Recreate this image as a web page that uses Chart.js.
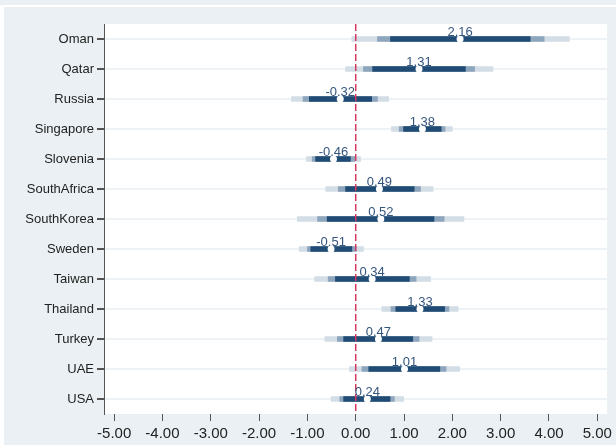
<!DOCTYPE html>
<html>
<head>
<meta charset="utf-8">
<script src="https://cdn.jsdelivr.net/npm/chart.js@4.4.0/dist/chart.umd.min.js"></script>
<style>
  body { margin: 0; background: #fff; width: 616px; height: 445px; overflow: hidden; position: relative; }
  #strip { position: absolute; left: 0; top: 0; width: 616px; height: 5px; background: #eaf0f3; }
  #panel { position: absolute; left: 4px; top: 7px; width: 612px; height: 438px; background: #eaf0f3; }
</style>
</head>
<body>
<div id="strip"></div>
<div id="panel"><canvas id="forestChart" width="612" height="438"></canvas></div>
<script>
const countries = ['Oman', 'Qatar', 'Russia', 'Singapore', 'Slovenia', 'SouthAfrica', 'SouthKorea', 'Sweden', 'Taiwan', 'Thailand', 'Turkey', 'UAE', 'USA'];
const estimates = [2.16, 1.31, -0.32, 1.38, -0.46, 0.49, 0.52, -0.51, 0.34, 1.33, 0.47, 1.01, 0.24];
const lightLow  = [-0.08, -0.21, -1.33, 0.74, -1.02, -0.62, -1.21, -1.17, -0.85, 0.54, -0.64, -0.13, -0.51];
const lightHigh = [4.42, 2.84, 0.68, 2.00, 0.10, 1.60, 2.24, 0.16, 1.55, 2.12, 1.58, 2.15, 0.99];
const midLow    = [0.45, 0.16, -1.09, 0.90, -0.90, -0.36, -0.79, -1.00, -0.57, 0.73, -0.38, 0.13, -0.33];
const midHigh   = [3.90, 2.46, 0.45, 1.85, -0.02, 1.34, 1.83, 0.01, 1.25, 1.93, 1.31, 1.87, 0.80];
const darkLow   = [0.72, 0.35, -0.96, 0.99, -0.83, -0.21, -0.59, -0.93, -0.42, 0.83, -0.25, 0.27, -0.25];
const darkHigh  = [3.61, 2.27, 0.33, 1.77, -0.11, 1.21, 1.62, -0.08, 1.11, 1.84, 1.18, 1.74, 0.71];
const xTicks = [-5, -4, -3, -2, -1, 0, 1, 2, 3, 4, 5];

const pairs = (lo, hi) => lo.map((v, i) => [v, hi[i]]);

// white plot area + zero reference line + value labels
const forestPlugin = {
    id: 'forest',
    beforeDraw(chart) {
        const { ctx, chartArea: a } = chart;
        ctx.save();
        ctx.fillStyle = '#ffffff';
        ctx.fillRect(a.left, a.top, a.right - a.left, a.bottom - a.top);
        ctx.restore();
    },
    afterDatasetsDraw(chart) {
        const { ctx, chartArea: a, scales } = chart;
        const x0 = scales.x.getPixelForValue(0);
        ctx.save();
        ctx.strokeStyle = '#d6375f';
        ctx.lineWidth = 1.5;
        ctx.setLineDash([7, 3]);
        ctx.beginPath();
        ctx.moveTo(x0, a.top);
        ctx.lineTo(x0, a.bottom);
        ctx.stroke();
        ctx.setLineDash([]);
        ctx.font = '13px "Liberation Sans", Arial, sans-serif';
        ctx.fillStyle = '#34557d';
        ctx.textAlign = 'center';
        ctx.textBaseline = 'alphabetic';
        estimates.forEach((v, i) => {
            const px = scales.x.getPixelForValue(v);
            const py = scales.y.getPixelForValue(i);
            ctx.fillText(v.toFixed(2), px, py - 3);
        });
        ctx.restore();
    }
};

const ctx = document.getElementById('forestChart').getContext('2d');
const forestChart = new Chart(ctx, {
    type: 'bar',
    data: {
        labels: countries,
        datasets: [
            {
                type: 'scatter',
                data: estimates.map((v, i) => ({ x: v, y: countries[i] })),
                backgroundColor: '#ffffff',
                borderWidth: 0,
                pointRadius: 3.5,
                pointHoverRadius: 3.5,
                order: 0
            },
            {
                data: pairs(darkLow, darkHigh),
                backgroundColor: '#1f4b75',
                barThickness: 5,
                grouped: false,
                order: 1
            },
            {
                data: pairs(midLow, midHigh),
                backgroundColor: '#8ea6bd',
                barThickness: 5,
                grouped: false,
                order: 2
            },
            {
                data: pairs(lightLow, lightHigh),
                backgroundColor: '#d3dde6',
                barThickness: 5,
                grouped: false,
                order: 3
            }
        ]
    },
    options: {
        indexAxis: 'y',
        responsive: false,
        animation: false,
        layout: { padding: { top: 17, right: 6, bottom: 0, left: 0 } },
        plugins: {
            legend: { display: false },
            tooltip: { enabled: false }
        },
        scales: {
            x: {
                type: 'linear',
                min: -5.21,
                max: 5.2,
                afterBuildTicks: function(scale) {
                    scale.ticks = xTicks.map(v => ({ value: v }));
                },
                afterFit: function(scale) { scale.height = 31; },
                grid: {
                    drawOnChartArea: false,
                    drawTicks: true,
                    tickLength: 7,
                    tickColor: '#555'
                },
                border: { display: false },
                ticks: {
                    padding: 4,
                    color: '#222',
                    font: { family: '"Liberation Sans", Arial, sans-serif', size: 15 },
                    callback: function(value) { return Number(value).toFixed(2); }
                }
            },
            y: {
                type: 'category',
                afterFit: function(scale) { scale.width = 100; },
                grid: {
                    offset: false,
                    color: '#edf2f4',
                    lineWidth: 2,
                    tickColor: '#555',
                    tickLength: 7
                },
                border: { display: true, color: '#555', width: 1 },
                ticks: {
                    padding: 3,
                    color: '#222',
                    font: { family: '"Liberation Sans", Arial, sans-serif', size: 13 }
                }
            }
        }
    },
    plugins: [forestPlugin]
});
</script>
</body>
</html>
